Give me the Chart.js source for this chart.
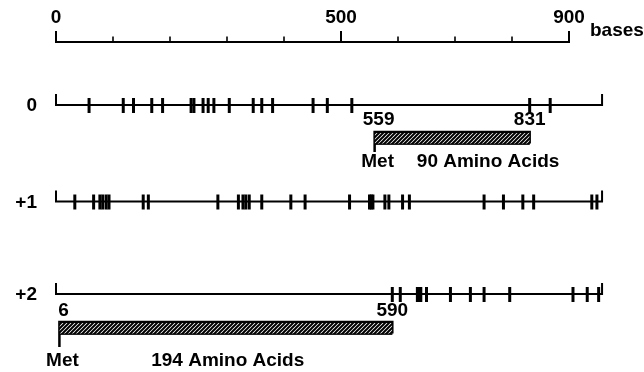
<!DOCTYPE html>
<html>
<head>
<meta charset="utf-8">
<script src="https://cdn.jsdelivr.net/npm/chart.js@4/dist/chart.umd.min.js"></script>
<style>
  html, body { margin: 0; padding: 0; background: #fff; }
  #wrap { width: 644px; height: 372px; }
</style>
</head>
<body>
<div id="wrap"><canvas id="myChart" width="644" height="372"></canvas></div>
<script>
// DATA (bases)
var frameNames = ['0', '+1', '+2'];
var seqEnd = 958;
var rulerTicks = [0, 100, 200, 300, 400, 500, 600, 700, 800, 900];
var rulerLabels = [0, 500, 900];
// stop codons per reading frame
var stops0 = [58, 118, 136, 168, 187, 237, 242, 258, 267, 277, 304, 346, 361, 380, 451, 476, 519, 831, 867];
var stops1 = [33, 66, 77, 82, 88, 93, 153, 162, 284, 320, 328, 333, 339, 361, 412, 437, 515, 550, 553, 556,
  577, 584, 608, 620, 751, 785, 819, 838, 940, 949];
var stops2 = [590, 604, 634, 637, 640, 650, 692, 727, 751, 796, 907, 932, 952];
// open reading frames
var orfFrame = [0, 2];
var orfStart = [559, 6];
var orfEnd = [831, 590];
var orfAA = [90, 194];

// layout (y in pixels, top = 0)
var rulerY = 42;
var rowY = [105, 201.5, 294];
var hook = 11;
var orfTop = [132, 322];
var orfH = 11.5;
var metLen = [20, 25];
var numY = [120, 311];
var metY = [162, 361];
var aaX = [633, 167]; // left edge of "NN Amino Acids", in bases

var FONT = 'bold 19px "Liberation Sans", Arial, sans-serif';

// hatch pattern
function makeHatch() {
  var c = document.createElement('canvas');
  c.width = 4; c.height = 4;
  var g = c.getContext('2d');
  g.fillStyle = '#fff';
  g.fillRect(0, 0, 4, 4);
  g.strokeStyle = '#000';
  g.lineWidth = 2;
  g.beginPath();
  g.moveTo(-1, 5); g.lineTo(5, -1);
  g.moveTo(-1, 1); g.lineTo(1, -1);
  g.moveTo(3, 5); g.lineTo(5, 3);
  g.stroke();
  return document.getElementById('myChart').getContext('2d').createPattern(c, 'repeat');
}
var hatch = makeHatch();

function pts(xs, y) {
  return xs.map(function (x) { return { x: x, y: y }; });
}
function lineDs(data, w) {
  return {
    data: data, borderColor: '#000', borderWidth: w || 2, pointRadius: 0,
    tension: 0, fill: false, spanGaps: false
  };
}
function tickDs(data, r, w) {
  return {
    data: data, showLine: false, pointStyle: 'line', rotation: 90,
    pointRadius: r, pointHoverRadius: r, borderColor: '#000', pointBorderWidth: w,
    borderWidth: w
  };
}

var datasets = [];

// ruler
datasets.push(lineDs([{ x: 0, y: rulerY - 11 }, { x: 0, y: rulerY }, { x: 900, y: rulerY }, { x: 900, y: rulerY - 11 }], 2));
var majors = [];
rulerLabels.forEach(function (v) { if (v !== 0 && v !== 900) majors.push({ x: v, y: rulerY - 5.5 }); });
datasets.push(tickDs(majors, 5.5, 2));
var minors = [];
rulerTicks.forEach(function (v) { if (rulerLabels.indexOf(v) < 0) minors.push({ x: v, y: rulerY - 2.8 }); });
datasets.push(tickDs(minors, 2.8, 1.6));

// frame lines + stops
var stops = [stops0, stops1, stops2];
rowY.forEach(function (y, i) {
  datasets.push(lineDs([{ x: 0, y: y - hook }, { x: 0, y: y }, { x: seqEnd, y: y }, { x: seqEnd, y: y - hook }], 2));
  datasets.push(tickDs(pts(stops[i], y + 0.5), 7.5, 3));
});

// ORFs: hatched fill between top and bottom edge, then outline and Met line
orfStart.forEach(function (s, i) {
  var e = orfEnd[i], t = orfTop[i], b = orfTop[i] + orfH;
  var top = lineDs([{ x: s, y: t }, { x: e, y: t }], 0);
  top.fill = '+1';
  top.backgroundColor = hatch;
  datasets.push(top);
  datasets.push(lineDs([{ x: s, y: b }, { x: e, y: b }], 0));
  datasets.push(lineDs([{ x: e, y: b }, { x: e, y: t }, { x: s, y: t }, { x: s, y: t + metLen[i] }], 2.5));
  datasets.push(lineDs([{ x: s, y: b }, { x: e, y: b }], 2.5));
});

// text labels placed through the scales
var labelPlugin = {
  id: 'labels',
  afterDatasetsDraw: function (chart) {
    var c = chart.ctx, xs = chart.scales.x, ys = chart.scales.y;
    c.save();
    c.fillStyle = '#000';
    c.font = FONT;
    c.textBaseline = 'middle';
    c.textAlign = 'center';
    rulerLabels.forEach(function (v) {
      c.fillText(String(v), xs.getPixelForValue(v), ys.getPixelForValue(18));
    });
    c.textAlign = 'left';
    c.fillText('bases', xs.getPixelForValue(900) + 21, ys.getPixelForValue(31));
    c.textAlign = 'right';
    frameNames.forEach(function (n, i) {
      c.fillText(n, 37, ys.getPixelForValue(rowY[i] + 1));
    });
    orfStart.forEach(function (s, i) {
      c.textAlign = 'center';
      c.fillText(String(s), xs.getPixelForValue(s) + 4, ys.getPixelForValue(numY[i]));
      c.fillText(String(orfEnd[i]), xs.getPixelForValue(orfEnd[i]), ys.getPixelForValue(numY[i]));
      c.fillText('Met', xs.getPixelForValue(s) + 3, ys.getPixelForValue(metY[i]));
      c.textAlign = 'left';
      c.fillText(orfAA[i] + ' Amino Acids', xs.getPixelForValue(aaX[i]), ys.getPixelForValue(metY[i]));
    });
    c.restore();
  }
};

var pxPerBase = 0.57;
var x0 = 56;
new Chart(document.getElementById('myChart'), {
  type: 'line',
  data: { datasets: datasets },
  options: {
    responsive: false,
    animation: false,
    events: [],
    layout: { padding: 0, autoPadding: false },
    plugins: { legend: { display: false }, tooltip: { enabled: false } },
    scales: {
      x: { type: 'linear', display: false, min: -x0 / pxPerBase, max: (644 - x0) / pxPerBase },
      y: { type: 'linear', display: false, min: 0, max: 372, reverse: true }
    }
  },
  plugins: [labelPlugin]
});
</script>
</body>
</html>
